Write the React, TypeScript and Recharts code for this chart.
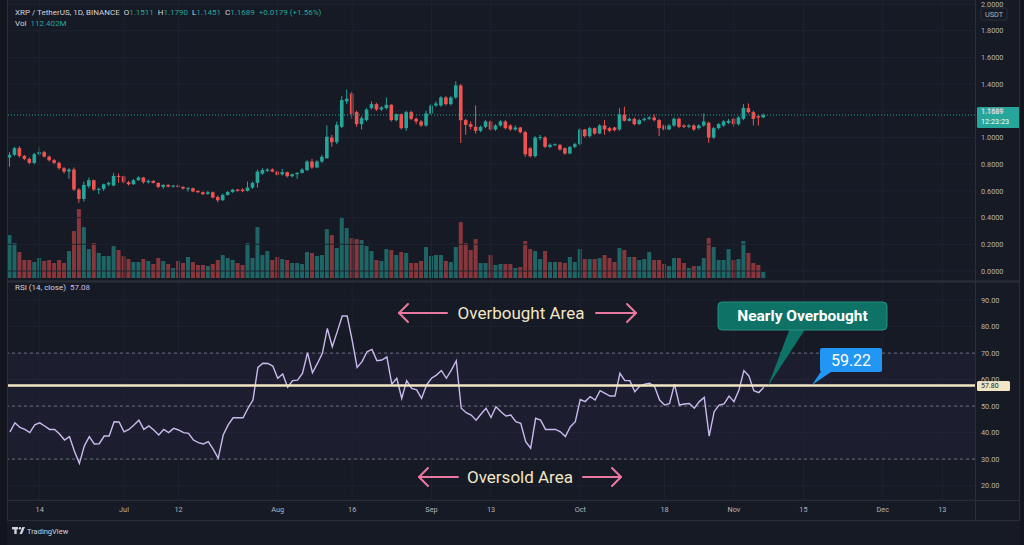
import React from 'react';
import {
  ComposedChart,
  BarChart,
  LineChart,
  Bar,
  Line,
  XAxis,
  YAxis,
  CartesianGrid,
  ReferenceLine,
  ReferenceArea,
  Cell,
} from 'recharts';

// ---------------- data ----------------
const openPrices = [
  0.85, 0.87, 0.92, 0.862, 0.84, 0.81, 0.875, 0.89, 0.857, 0.83,
  0.81, 0.77, 0.745, 0.76, 0.61, 0.54, 0.635, 0.68, 0.61, 0.615,
  0.648, 0.64, 0.712, 0.71, 0.665, 0.65, 0.68, 0.70, 0.665, 0.675,
  0.66, 0.63, 0.645, 0.632, 0.64, 0.63, 0.615, 0.62, 0.60, 0.59,
  0.578, 0.59, 0.555, 0.53, 0.57, 0.592, 0.61, 0.61, 0.60, 0.625,
  0.66, 0.73, 0.75, 0.76, 0.745, 0.725, 0.74, 0.71, 0.725, 0.735,
  0.755, 0.82, 0.775, 0.82, 0.845, 1.0, 0.965, 1.08, 1.27, 1.33,
  1.19, 1.10, 1.13, 1.22, 1.25, 1.21, 1.22, 1.245, 1.13, 1.175,
  1.07, 1.19, 1.14, 1.12, 1.09, 1.18, 1.24, 1.24, 1.30, 1.25,
  1.30, 1.39, 1.13, 1.10, 1.08, 1.05, 1.08, 1.12, 1.06, 1.09,
  1.12, 1.09, 1.06, 1.075, 1.04, 0.92, 0.86, 1.0, 1.0, 0.93,
  0.945, 0.945, 0.92, 0.88, 0.93, 0.95, 1.06, 1.01, 1.07, 1.03,
  1.09, 1.07, 1.075, 1.06, 1.17, 1.125, 1.14, 1.10, 1.13, 1.14,
  1.15, 1.13, 1.09, 1.06, 1.09, 1.14, 1.09, 1.08, 1.09, 1.07,
  1.09, 1.11, 1.0, 1.07, 1.09, 1.11, 1.14, 1.10, 1.14, 1.22,
  1.19, 1.16, 1.1511,
];
const highPrices = [
  0.89, 0.93, 0.935, 0.87, 0.85, 0.885, 0.93, 0.90, 0.865, 0.84,
  0.82, 0.78, 0.77, 0.775, 0.62, 0.67, 0.70, 0.685, 0.625, 0.655,
  0.67, 0.735, 0.73, 0.715, 0.675, 0.69, 0.71, 0.705, 0.685, 0.68,
  0.665, 0.65, 0.65, 0.645, 0.648, 0.635, 0.63, 0.625, 0.605, 0.595,
  0.60, 0.595, 0.565, 0.58, 0.60, 0.615, 0.615, 0.62, 0.67, 0.67,
  0.76, 0.77, 0.77, 0.77, 0.75, 0.765, 0.745, 0.73, 0.74, 0.77,
  0.83, 0.84, 0.83, 0.87, 1.09, 1.02, 1.12, 1.31, 1.36, 1.345,
  1.20, 1.16, 1.22, 1.27, 1.26, 1.235, 1.30, 1.25, 1.18, 1.18,
  1.20, 1.20, 1.15, 1.13, 1.20, 1.25, 1.27, 1.31, 1.31, 1.31,
  1.42, 1.40, 1.14, 1.12, 1.24, 1.09, 1.13, 1.13, 1.10, 1.13,
  1.13, 1.10, 1.09, 1.08, 1.05, 0.93, 1.01, 1.02, 1.01, 0.955,
  0.955, 0.95, 0.925, 0.935, 0.96, 1.07, 1.065, 1.08, 1.075, 1.10,
  1.13, 1.08, 1.08, 1.22, 1.23, 1.15, 1.15, 1.14, 1.15, 1.16,
  1.175, 1.14, 1.10, 1.10, 1.15, 1.15, 1.10, 1.10, 1.10, 1.10,
  1.18, 1.12, 1.08, 1.11, 1.13, 1.14, 1.15, 1.16, 1.25, 1.255,
  1.20, 1.17, 1.179,
];
const lowPrices = [
  0.78, 0.86, 0.85, 0.83, 0.80, 0.80, 0.865, 0.85, 0.82, 0.80,
  0.76, 0.73, 0.69, 0.60, 0.51, 0.52, 0.62, 0.60, 0.575, 0.60,
  0.635, 0.635, 0.66, 0.655, 0.64, 0.645, 0.675, 0.655, 0.655, 0.655,
  0.62, 0.615, 0.625, 0.625, 0.625, 0.61, 0.595, 0.59, 0.585, 0.57,
  0.57, 0.545, 0.515, 0.525, 0.565, 0.585, 0.595, 0.59, 0.595, 0.615,
  0.625, 0.72, 0.74, 0.74, 0.71, 0.715, 0.70, 0.70, 0.69, 0.73,
  0.75, 0.765, 0.77, 0.81, 0.84, 0.93, 0.95, 1.07, 1.25, 1.14,
  1.08, 1.06, 1.12, 1.21, 1.20, 1.20, 1.21, 1.12, 1.12, 1.06,
  1.05, 1.13, 1.10, 1.08, 1.08, 1.17, 1.23, 1.23, 1.24, 1.24,
  1.29, 0.96, 1.02, 1.06, 1.03, 1.04, 1.07, 1.05, 1.05, 1.08,
  1.06, 1.05, 1.05, 1.03, 0.855, 0.85, 0.85, 0.98, 0.92, 0.92,
  0.935, 0.90, 0.87, 0.875, 0.92, 0.94, 1.0, 1.0, 1.02, 1.025,
  1.02, 1.04, 1.045, 1.05, 1.12, 1.12, 1.09, 1.095, 1.12, 1.13,
  1.12, 1.01, 1.05, 1.055, 1.08, 1.07, 1.07, 1.07, 1.05, 1.06,
  1.08, 0.96, 0.99, 1.06, 1.08, 1.10, 1.08, 1.09, 1.13, 1.18,
  1.09, 1.09, 1.1451,
];
const closePrices = [
  0.87, 0.92, 0.862, 0.84, 0.81, 0.875, 0.89, 0.857, 0.83, 0.81,
  0.77, 0.745, 0.76, 0.61, 0.54, 0.645, 0.68, 0.61, 0.615, 0.65,
  0.66, 0.712, 0.705, 0.665, 0.65, 0.68, 0.70, 0.665, 0.675, 0.66,
  0.63, 0.645, 0.632, 0.64, 0.63, 0.618, 0.62, 0.596, 0.59, 0.575,
  0.59, 0.55, 0.53, 0.57, 0.592, 0.61, 0.60, 0.60, 0.625, 0.66,
  0.745, 0.757, 0.76, 0.745, 0.72, 0.74, 0.71, 0.725, 0.735, 0.76,
  0.82, 0.775, 0.82, 0.855, 1.006, 0.965, 1.095, 1.28, 1.29, 1.175,
  1.10, 1.145, 1.21, 1.25, 1.21, 1.225, 1.245, 1.13, 1.175, 1.07,
  1.19, 1.14, 1.12, 1.09, 1.18, 1.24, 1.255, 1.30, 1.25, 1.30,
  1.39, 1.13, 1.095, 1.08, 1.05, 1.08, 1.12, 1.06, 1.09, 1.12,
  1.07, 1.06, 1.075, 1.04, 0.874, 0.86, 1.0, 1.003, 0.93, 0.945,
  0.95, 0.91, 0.88, 0.93, 0.95, 1.06, 1.01, 1.07, 1.03, 1.09,
  1.06, 1.05, 1.055, 1.173, 1.125, 1.14, 1.10, 1.13, 1.14, 1.15,
  1.13, 1.07, 1.06, 1.09, 1.14, 1.08, 1.08, 1.09, 1.06, 1.09,
  1.12, 1.0, 1.07, 1.10, 1.12, 1.125, 1.10, 1.15, 1.222, 1.19,
  1.14, 1.15, 1.1689,
];
const volumesM = [
  804, 655, 486, 337, 337, 299, 374, 318, 337, 281,
  337, 281, 505, 879, 1290, 954, 542, 655, 468, 411,
  411, 598, 524, 411, 355, 299, 299, 355, 318, 262,
  374, 318, 262, 187, 318, 281, 393, 299, 243, 243,
  224, 262, 337, 430, 374, 337, 281, 243, 655, 374,
  954, 430, 505, 337, 393, 355, 337, 281, 281, 262,
  486, 468, 411, 430, 916, 804, 561, 1141, 935, 748,
  729, 711, 598, 505, 337, 318, 542, 524, 430, 486,
  468, 281, 281, 318, 580, 411, 430, 430, 318, 299,
  580, 1047, 655, 524, 729, 281, 281, 430, 243, 262,
  262, 262, 187, 206, 692, 542, 505, 355, 505, 299,
  299, 299, 281, 393, 299, 542, 355, 355, 355, 374,
  430, 374, 299, 561, 524, 393, 393, 337, 355, 486,
  337, 337, 262, 224, 374, 374, 281, 187, 224, 224,
  374, 748, 580, 337, 337, 542, 337, 355, 692, 468,
  281, 243, 112.402,
];
const rsiValues = [
  40.3, 43.7, 42.0, 41.2, 40.0, 42.9, 43.7, 42.5, 41.2, 41.2,
  39.5, 37.2, 38.5, 33.0, 28.4, 35.0, 38.5, 35.7, 35.8, 38.7,
  38.7, 44.1, 44.0, 40.3, 41.2, 42.9, 44.7, 41.2, 42.5, 41.0,
  39.1, 41.2, 40.0, 41.6, 41.0, 40.0, 39.7, 37.2, 36.2, 35.7,
  36.6, 33.7, 30.3, 39.1, 42.9, 45.6, 45.6, 45.6, 49.2, 52.3,
  64.6, 66.2, 66.1, 65.1, 60.5, 62.1, 57.1, 59.6, 59.8, 62.4,
  70.2, 62.6, 66.1, 69.9, 79.3, 72.4, 78.1, 84.0, 84.0, 74.9,
  64.6, 66.8, 70.5, 71.4, 67.1, 67.4, 68.6, 58.3, 60.5, 52.9,
  59.6, 56.7, 56.1, 52.9, 57.9, 60.5, 61.7, 63.4, 60.5, 63.6,
  67.1, 49.2, 47.5, 46.6, 44.7, 47.0, 49.2, 45.7, 49.8, 47.9,
  46.3, 46.6, 44.1, 43.5, 36.6, 34.1, 45.4, 44.7, 41.2, 41.2,
  41.2, 40.3, 38.5, 42.2, 44.1, 52.5, 51.7, 53.6, 52.3, 55.8,
  54.8, 53.8, 53.8, 62.4, 59.6, 59.6, 55.4, 57.6, 58.3, 58.6,
  57.3, 52.3, 50.4, 51.0, 58.3, 50.4, 50.8, 51.0, 49.2, 51.7,
  53.3, 38.7, 47.9, 50.4, 50.8, 53.8, 51.7, 56.1, 63.4, 61.4,
  55.8, 55.1, 57.08,
];
// day index 0 = Jun 8
const timeTickIdx = [6, 23, 34, 54, 69, 85, 97, 115, 132, 146, 160, 176, 188];
const timeTickLabels = ['14', 'Jul', '12', 'Aug', '16', 'Sep', '13', 'Oct', '18', 'Nov', '15', 'Dec', '13'];
const priceTicks = [0, 0.2, 0.4, 0.6, 0.8, 1.0, 1.2, 1.4, 1.6, 1.8, 2.0];
const rsiTicks = [20, 30, 40, 50, 60, 70, 80, 90];
const lastPrice = 1.1689;
const rsiMarker = 57.8;

// ---------------- styles ----------------
const BG = '#161a25';
const EDGE = '#12151e';
const GRID = '#1e2230';
const BORDER = '#2a2e39';
const TXT = '#b2b5be';
const UP = '#26a69a';
const DOWN = '#ef5350';
const RSI_LINE = '#c9b9ee';
const CREAM = '#f2e6c4';
const PINK = '#e8789f';
const FONT = 'Roboto, "Noto Sans", sans-serif';

const X_DOMAIN: [number, number] = [-1, 194.6];
const PRICE_DOMAIN: [number, number] = [-0.0749, 2.03];
const VOL_DOMAIN: [number, number] = [0, 5207];
const RSI_DOMAIN: [number, number] = [14.57, 97.21];

const data = closePrices.map((c, i) => ({
  i,
  open: openPrices[i],
  high: highPrices[i],
  low: lowPrices[i],
  close: c,
  vol: volumesM[i],
  rsi: rsiValues[i],
}));

const Candle = (props: any) => {
  const { x, y, width, height, payload } = props;
  if (!payload || x == null) return null;
  const { open, close, high, low } = payload;
  const color = close >= open ? UP : DOWN;
  const top = Math.min(y, y + height);
  const h = Math.abs(height);
  const ppu = h / (high - low || 1);
  const bodyTop = top + (high - Math.max(open, close)) * ppu;
  const bodyH = Math.max(1, Math.abs(open - close) * ppu);
  const cx = x + width / 2;
  return (
    <g>
      <line x1={cx} x2={cx} y1={top} y2={top + h} stroke={color} strokeWidth={1} />
      <rect x={cx - 1.8} y={bodyTop} width={3.6} height={bodyH} fill={color} />
    </g>
  );
};

const PriceTick = (props: any) => {
  const { x, y, payload } = props;
  return (
    <text x={x - 2} y={y + 2.6} fill={TXT} fontSize={7.3} fontFamily={FONT}>
      {Number(payload.value).toFixed(4)}
    </text>
  );
};

const RsiTick = (props: any) => {
  const { x, y, payload } = props;
  return (
    <text x={x - 2} y={y + 2.6} fill={TXT} fontSize={7.3} fontFamily={FONT}>
      {Number(payload.value).toFixed(2)}
    </text>
  );
};

const TimeTick = (props: any) => {
  const { x, y, payload } = props;
  const k = timeTickIdx.indexOf(payload.value);
  return (
    <text x={x} y={y + 4} fill={TXT} fontSize={7.3} fontFamily={FONT} textAnchor="middle">
      {k >= 0 ? timeTickLabels[k] : ''}
    </text>
  );
};

const PriceLabel = (props: any) => {
  const vb = props.viewBox || {};
  const x = vb.x + vb.width + 2;
  const y = vb.y;
  return (
    <g>
      <rect x={x} y={y - 8} width={43} height={21} rx={1.5} fill={UP} />
      <text x={x + 4} y={y - 0.5} fill="#ffffff" fontSize={7.3} fontFamily={FONT}>
        {lastPrice.toFixed(4)}
      </text>
      <text x={x + 4} y={y + 9} fill="#e8fffb" fontSize={7.3} fontFamily={FONT}>
        12:23:23
      </text>
    </g>
  );
};

const RsiMarkerLabel = (props: any) => {
  const vb = props.viewBox || {};
  const x = vb.x + vb.width + 2;
  const y = vb.y;
  return (
    <g>
      <rect x={x} y={y - 4.5} width={33} height={10} rx={1.5} fill={CREAM} />
      <text x={x + 4} y={y + 3} fill="#1a1d27" fontSize={7} fontFamily={FONT}>
        {rsiMarker.toFixed(2)}
      </text>
    </g>
  );
};

const Arrow = ({ x1, x2, y }: { x1: number; x2: number; y: number }) => {
  const dir = x2 > x1 ? -1 : 1;
  return (
    <g stroke={PINK} strokeWidth={2} fill="none" strokeLinecap="round" strokeLinejoin="round">
      <line x1={x1} y1={y} x2={x2} y2={y} />
      <path d={`M ${x2 + dir * 9} ${y - 9} Q ${x2 + dir * 3} ${y - 3} ${x2} ${y} Q ${x2 + dir * 3} ${y + 3} ${x2 + dir * 9} ${y + 9}`} />
    </g>
  );
};

export default function App() {
  return (
    <div
      style={{
        position: 'fixed',
        left: 0,
        top: 0,
        width: 1024,
        height: 545,
        background: BG,
        overflow: 'hidden',
        fontFamily: FONT,
      }}
    >
      {/* volume pane (behind) */}
      <div style={{ position: 'absolute', left: 0, top: 0 }}>
        <BarChart width={1024} height={281} data={data} margin={{ top: 0, right: 49, left: 5, bottom: 3 }}>
          <XAxis dataKey="i" type="number" domain={X_DOMAIN} hide allowDataOverflow />
          <YAxis domain={VOL_DOMAIN} hide allowDataOverflow />
          <Bar dataKey="vol" barSize={4} isAnimationActive={false}>
            {data.map((d) => (
              <Cell key={d.i} fill={d.close >= d.open ? 'rgba(38,166,154,0.55)' : 'rgba(239,83,80,0.52)'} />
            ))}
          </Bar>
        </BarChart>
      </div>

      {/* price pane */}
      <div style={{ position: 'absolute', left: 0, top: 0 }}>
        <ComposedChart width={1024} height={281} data={data} margin={{ top: 0, right: 0, left: 5, bottom: 0 }}>
          <CartesianGrid stroke={GRID} vertical={false} />
          {timeTickIdx.map((t) => (
            <ReferenceLine key={'pv' + t} x={t} stroke={GRID} />
          ))}
          <XAxis dataKey="i" type="number" domain={X_DOMAIN} hide allowDataOverflow />
          <YAxis
            orientation="right"
            width={49}
            domain={PRICE_DOMAIN}
            ticks={priceTicks}
            tick={<PriceTick />}
            axisLine={false}
            tickLine={false}
            allowDataOverflow
            interval={0}
          />
          <ReferenceLine y={lastPrice} stroke={UP} strokeDasharray="1 2" label={<PriceLabel />} />
          <Bar dataKey={(d: any) => [d.low, d.high]} barSize={4} shape={<Candle />} isAnimationActive={false} />
        </ComposedChart>
      </div>

      {/* RSI pane + time axis */}
      <div style={{ position: 'absolute', left: 0, top: 281 }}>
        <LineChart width={1024} height={239} data={data} margin={{ top: 0, right: 0, left: 5, bottom: 0 }}>
          <ReferenceArea y1={30} y2={70} fill="rgba(126,87,194,0.13)" stroke="none" />
          <CartesianGrid stroke={GRID} vertical={false} />
          {timeTickIdx.map((t) => (
            <ReferenceLine key={'rv' + t} x={t} stroke={GRID} />
          ))}
          <XAxis
            dataKey="i"
            type="number"
            domain={X_DOMAIN}
            ticks={timeTickIdx}
            tick={<TimeTick />}
            height={20}
            axisLine={false}
            tickLine={false}
            allowDataOverflow
            interval={0}
          />
          <YAxis
            orientation="right"
            width={49}
            domain={RSI_DOMAIN}
            ticks={rsiTicks}
            tick={<RsiTick />}
            axisLine={false}
            tickLine={false}
            allowDataOverflow
            interval={0}
          />
          <ReferenceLine y={70} stroke="#6a6d78" strokeDasharray="3 3" />
          <ReferenceLine y={50} stroke="#6a6d78" strokeDasharray="3 3" />
          <ReferenceLine y={30} stroke="#6a6d78" strokeDasharray="3 3" />
          <Line dataKey="rsi" stroke={RSI_LINE} strokeWidth={1.4} dot={false} isAnimationActive={false} />
          <ReferenceLine y={rsiMarker} stroke={CREAM} strokeWidth={2.6} label={<RsiMarkerLabel />} />
        </LineChart>
      </div>

      {/* pane borders & annotations */}
      <svg width={1024} height={545} style={{ position: 'absolute', left: 0, top: 0, pointerEvents: 'none' }}>
        <line x1={0} x2={1024} y1={281.5} y2={281.5} stroke={BORDER} strokeWidth={2} />
        <line x1={975.5} x2={975.5} y1={0} y2={520} stroke={BORDER} />
        <line x1={0} x2={1024} y1={500.5} y2={500.5} stroke={BORDER} />
        <line x1={0} x2={1024} y1={520.5} y2={520.5} stroke={BORDER} />
        <rect x={0} y={0} width={7} height={545} fill={EDGE} />
        <line x1={7.5} x2={7.5} y1={0} y2={521} stroke={BORDER} />
        <rect x={1020} y={0} width={4} height={545} fill={EDGE} />
        <line x1={1019.5} x2={1019.5} y1={0} y2={521} stroke={BORDER} />

        {/* USDT box */}
        <rect x={981} y={8} width={26} height={12} rx={2} fill={BG} stroke={BORDER} />
        <text x={985} y={16.5} fill={TXT} fontSize={7.3} fontFamily={FONT}>USDT</text>

        {/* Overbought */}
        <Arrow x1={447} x2={399} y={313} />
        <text x={521} y={319} fill={CREAM} fontSize={17} fontFamily={FONT} textAnchor="middle">Overbought Area</text>
        <Arrow x1={596} x2={636} y={313} />

        {/* Oversold */}
        <Arrow x1={458} x2={419} y={477} />
        <text x={520} y={483} fill={CREAM} fontSize={17} fontFamily={FONT} textAnchor="middle">Oversold Area</text>
        <Arrow x1={583} x2={621} y={477} />

        {/* Nearly Overbought callout */}
        <path d="M 790 328 L 806 328 L 768 386 Z" fill="#0e7266" />
        <rect x={718} y={302} width={169} height={28} rx={4} fill="#0e7266" stroke="#2a8f83" strokeWidth={1} />
        <text x={802.5} y={321} fill="#ffffff" fontSize={15.5} fontWeight={700} fontFamily={FONT} textAnchor="middle">Nearly Overbought</text>

        {/* 59.22 callout */}
        <path d="M 822 370 L 834 370 L 812 385 Z" fill="#2196f3" />
        <rect x={820} y={348} width={62} height={24} rx={2} fill="#2196f3" />
        <text x={851} y={366} fill="#ffffff" fontSize={16} fontFamily={FONT} textAnchor="middle">59.22</text>

        {/* TradingView logo */}
        <g fill="#d1d4dc">
          <rect x={12} y={527} width={6} height={2.4} />
          <rect x={14.3} y={527} width={2.4} height={7} />
          <circle cx={20} cy={528.3} r={1.3} />
          <path d="M 22.5 527 L 25 527 L 22 534 L 19.5 534 Z" />
        </g>
        <text x={27} y={534} fill="#d1d4dc" fontSize={7.5} fontFamily={FONT}>TradingView</text>
      </svg>

      {/* legends */}
      <div style={{ position: 'absolute', left: 15, top: 8, fontSize: 8, color: '#d1d4dc', whiteSpace: 'nowrap', lineHeight: '10px' }}>
        XRP / TetherUS, 1D, BINANCE&nbsp;&nbsp;O<span style={{ color: UP }}>1.1511</span>&nbsp;&nbsp;H<span style={{ color: UP }}>1.1790</span>&nbsp;&nbsp;L<span style={{ color: UP }}>1.1451</span>&nbsp;&nbsp;C<span style={{ color: UP }}>1.1689</span>&nbsp;&nbsp;<span style={{ color: UP }}>+0.0179 (+1.56%)</span>
      </div>
      <div style={{ position: 'absolute', left: 15, top: 19, fontSize: 8, color: '#d1d4dc', whiteSpace: 'nowrap', lineHeight: '10px' }}>
        Vol&nbsp;&nbsp;<span style={{ color: UP }}>112.402M</span>
      </div>
      <div style={{ position: 'absolute', left: 15, top: 283, fontSize: 8, color: '#d1d4dc', whiteSpace: 'nowrap', lineHeight: '10px' }}>
        RSI (14, close)&nbsp;&nbsp;<span style={{ color: RSI_LINE }}>57.08</span>
      </div>
    </div>
  );
}
